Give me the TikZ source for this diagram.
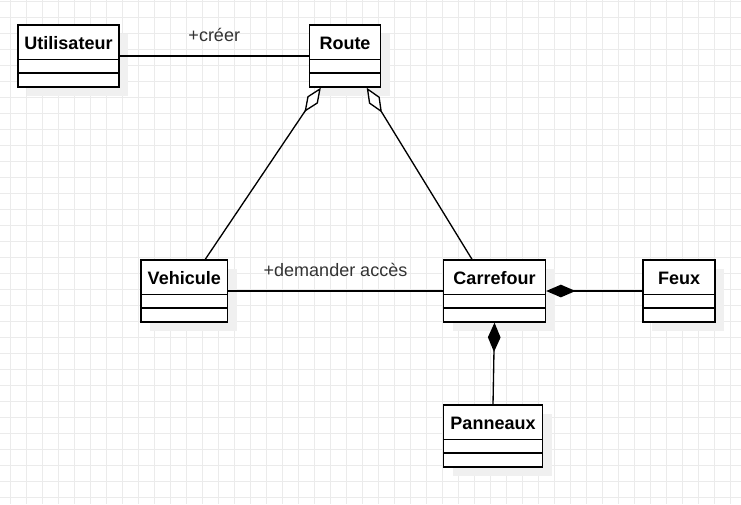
\documentclass[tikz,border=0pt]{standalone}
\usepackage{fontspec}
\setmainfont{Liberation Sans}
\usepackage{tikz}
\usetikzlibrary{arrows.meta,calc,shadows}
\definecolor{gridgray}{RGB}{235,235,235}
\definecolor{shadowgray}{RGB}{240,240,240}
\definecolor{textgray}{RGB}{51,51,51}

\begin{document}
\begin{tikzpicture}[x=0.75pt,y=0.75pt,yscale=-1,xscale=1,
    gridline/.style={draw=gridgray, line width=0.75pt},
    umlclass/.style={draw, line width=1pt, fill=white, minimum height=46.5pt, inner sep=0pt,
      drop shadow={shadow xshift=7pt, shadow yshift=-7pt, fill=shadowgray, opacity=1}},
    classname/.style={anchor=base, yshift=-18.5pt, font=\fontsize{13.5}{16}\selectfont\bfseries},
    assoc/.style={line width=1pt},
    assoclabel/.style={anchor=base, yshift=11.25pt, text=textgray, font=\fontsize{13.5}{16}\selectfont},
    aggr/.style={assoc, arrows={Diamond[fill=white,length=22pt,width=9.5pt]-}},
    compo/.style={assoc, arrows={Diamond[length=22pt,width=9.5pt]-}}]
    %set diagram left start at 0, and has height of 504
    \useasboundingbox (0,0) rectangle (741,504);
    \fill [white] (0,0) rectangle (741,504);

    % Grid
    \foreach \gx in {10,26,...,730} \draw [gridline] (\gx,0) -- (\gx,504);
    \foreach \gy in {1,17,...,497} \draw [gridline] (0,\gy) -- (741,\gy);

    % Class Nodes
    \node [umlclass, minimum width=75.75pt, label={[classname]north:Utilisateur}] (utilisateur) at (68.5,56) {};
    \node [umlclass, minimum width=53.25pt, label={[classname]north:Route}] (route) at (345,56) {};
    \node [umlclass, minimum width=64.875pt, label={[classname]north:Vehicule}] (vehicule) at (184.25,291) {};
    \node [umlclass, minimum width=76.5pt, label={[classname]north:Carrefour}] (carrefour) at (494.5,291) {};
    \node [umlclass, minimum width=54pt, label={[classname]north:Feux}] (feux) at (679,291) {};
    \node [umlclass, minimum width=74.25pt, label={[classname]north:Panneaux}] (panneaux) at (493,436) {};

    % Compartments
    \foreach \cls in {utilisateur,route,vehicule,carrefour,feux,panneaux}{
      \draw [line width=1pt] ($(\cls.north west)+(0,35)$) -- ($(\cls.north east)+(0,35)$);
      \draw [line width=1pt] ($(\cls.north west)+(0,48.5)$) -- ($(\cls.north east)+(0,48.5)$);
    }

    % Associations
    \draw [assoc] (utilisateur.east) -- node [assoclabel] (lcreer) {+créer} (route.west);
    \draw [assoc] (vehicule.east) -- node [assoclabel] (lacces) {+demander accès} (carrefour.west);
    % Compositions
    \draw [compo] (carrefour.east) -- (feux.west);
    \draw [compo] (carrefour.south) -- (panneaux.north);
    % Aggregations
    \draw [aggr] ($(route.south west)+(12,0)$) -- ($(vehicule.north)+(21,0)$);
    \draw [aggr] ($(route.south east)+(-14.5,0)$) -- ($(carrefour.north)+(-22.5,0)$);

\end{tikzpicture}
\end{document}
